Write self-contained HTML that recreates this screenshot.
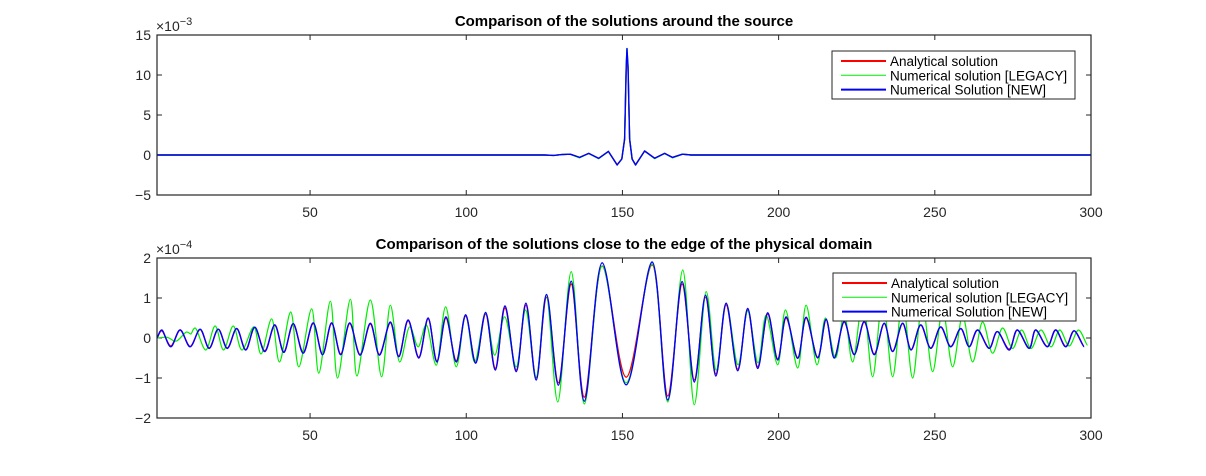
<!DOCTYPE html>
<html><head><meta charset="utf-8"><style>
body{margin:0;background:#fff;}
svg text{font-family:"Liberation Sans",sans-serif;}
</style></head><body>
<svg id="fig" width="1206" height="471" xmlns="http://www.w3.org/2000/svg">
<rect width="1206" height="471" fill="#fff"/>
<defs>
<clipPath id="c1"><rect x="157" y="35" width="934" height="160"/></clipPath>
<clipPath id="c2"><rect x="157" y="258" width="934" height="160"/></clipPath>
</defs>
<g id="top"></g>
<g id="bot"></g>
</svg>
<script>
// ---- X axis ----
const xTicks=[50,100,150,200,250,300];
// ---- Top chart data (x10^-3) ----
const topYTicks=[15,10,5,0,-5];
const topX=[1,125,128,130.5,133.3,136.3,139.2,142.4,145.5,148.3,149.8,150.7,151.2,151.45,151.8,152.3,153.1,154.2,157.1,160.3,163.5,166,169.2,172,175,300];
const topAna=[0,0,-0.05,0.05,0.1,-0.3,0.2,-0.42,0.45,-1.2,-0.5,2,10.5,12.8,10.5,2,-0.5,-1.2,0.5,-0.4,0.2,-0.3,0.1,0,0,0];
const topLegacy=[0,0,-0.05,0.05,0.1,-0.35,0.2,-0.45,0.45,-1.25,-0.5,2,11,13.3,11,2,-0.5,-1.25,0.5,-0.45,0.2,-0.35,0.1,0,0,0];
const topNew=[0,0,-0.05,0.05,0.1,-0.3,0.2,-0.42,0.45,-1.25,-0.5,2,11,13.3,11,2,-0.5,-1.25,0.5,-0.4,0.2,-0.3,0.1,0,0,0];
// ---- Bottom chart data (x10^-4), extrema ----
const botYTicks=[2,1,0,-1,-2];
const newPeakX=[2.5,8.4,14.8,20.6,26.5,32.3,38.7,44.6,51,56.9,62.7,69.3,75.7,81.4,87.8,93.5,99.8,106.2,112.4,119.1,125.7,133.6,143.5,159.5,169.1,176.6,183.2,190.1,196.5,202.4,208.8,215.2,221,227.4,233.8,239.7,245.5,251.9,258.3,263.7,270,276.4,282.3,288.7,294.6];
const newPeakY=[0.2,0.2,0.22,0.22,0.24,0.27,0.33,0.36,0.38,0.38,0.38,0.37,0.4,0.45,0.5,0.53,0.58,0.64,0.8,0.87,1.09,1.42,1.88,1.9,1.41,1.07,0.87,0.74,0.63,0.53,0.52,0.47,0.41,0.41,0.37,0.37,0.33,0.28,0.24,0.2,0.16,0.2,0.2,0.2,0.18];
const newTroughX=[1,5.4,11.6,17.7,23.5,29.4,35.5,41.6,47.8,54,59.8,66,72.2,78.4,84.8,90.6,96.8,103,109.3,116,122.4,129.5,137.8,151.2,164.5,173,179.9,186.9,193.3,199.7,206.1,212.5,217.8,224.2,230.6,236.5,242.4,248.7,255.1,261,267.4,273.8,280.2,286,291.9,297.8];
const newTroughY=[0,-0.22,-0.22,-0.26,-0.26,-0.3,-0.34,-0.36,-0.38,-0.42,-0.42,-0.43,-0.43,-0.47,-0.5,-0.6,-0.6,-0.63,-0.8,-0.84,-1.05,-1.18,-1.58,-1.17,-1.55,-1.1,-0.95,-0.82,-0.76,-0.55,-0.51,-0.5,-0.5,-0.42,-0.42,-0.34,-0.3,-0.26,-0.22,-0.22,-0.26,-0.3,-0.26,-0.22,-0.22,-0.22];
const anaPeakY=[0.18,0.2,0.21,0.22,0.23,0.26,0.31,0.34,0.36,0.36,0.36,0.35,0.38,0.43,0.48,0.5,0.55,0.6,0.75,0.82,1.02,1.35,1.8,1.83,1.35,1.02,0.83,0.7,0.6,0.5,0.5,0.45,0.4,0.4,0.36,0.36,0.32,0.27,0.23,0.2,0.16,0.2,0.2,0.2,0.18];
const anaTroughY=[0,-0.2,-0.21,-0.25,-0.25,-0.29,-0.32,-0.34,-0.36,-0.4,-0.4,-0.41,-0.41,-0.45,-0.48,-0.57,-0.57,-0.6,-0.76,-0.8,-1.0,-1.12,-1.48,-0.98,-1.45,-1.05,-0.9,-0.78,-0.72,-0.52,-0.49,-0.48,-0.48,-0.4,-0.4,-0.33,-0.29,-0.25,-0.21,-0.21,-0.25,-0.28,-0.25,-0.21,-0.21,-0.21];
const legPeakX=[4,10.5,13.2,19.6,25.4,32,37.7,43.8,50.5,56.5,62.9,69.3,75.7,81.9,87.2,93.4,99.8,106.2,112.3,119,125.6,133.6,143.5,159.5,169.3,176.8,183.2,190.1,196,202.2,208.8,215,221,227,233.3,239.7,246,252.5,258.9,265.3,271.7,277.8,284,290,296];
const legPeakY=[0.02,0.15,0.25,0.3,0.3,0.28,0.48,0.65,0.73,0.92,0.97,0.95,0.82,0.28,0.33,0.78,0.58,0.62,0.53,0.7,1.08,1.66,1.8,1.85,1.7,1.16,0.87,0.67,0.57,0.7,0.82,0.5,0.6,0.95,1.0,0.95,0.85,0.7,0.55,0.4,0.25,0.2,0.2,0.2,0.2];
const legTroughX=[1,7,11.8,16.6,22.3,28.2,34.3,40.2,46.4,52.8,58.8,65,72.9,78.7,84.6,90.4,96.8,102.7,109.1,116,122.4,129.3,137.8,151.2,164.5,173,180,187,193.4,199.7,206.1,212.3,218.2,223.7,230.1,236.5,242.9,249.3,255.7,262.1,268.5,274.9,280.8,287.2,293,298.9];
const legTroughY=[0,-0.08,0.1,-0.3,-0.3,-0.3,-0.4,-0.6,-0.72,-0.88,-1.0,-0.95,-0.97,-0.6,-0.22,-0.68,-0.72,-0.6,-0.43,-0.72,-0.97,-1.6,-1.65,-1.12,-1.6,-1.67,-0.8,-0.67,-0.62,-0.67,-0.75,-0.67,-0.5,-0.6,-0.97,-0.97,-1.0,-0.84,-0.72,-0.6,-0.38,-0.26,-0.26,-0.22,-0.2,-0.18];
const legendLabels=["Analytical solution","Numerical solution [LEGACY]","Numerical Solution [NEW]"];

const NS="http://www.w3.org/2000/svg";
const X0=157,X1=1091,XMIN=1,XMAX=300;
function sx(v){return X0+(v-XMIN)/(XMAX-XMIN)*(X1-X0);}
function mk(tag,attrs,parent){const e=document.createElementNS(NS,tag);for(const k in attrs)e.setAttribute(k,attrs[k]);parent.appendChild(e);return e;}
function merge(ax,ay,bx,by){const p=[];ax.forEach((x,i)=>p.push([x,ay[i]]));bx.forEach((x,i)=>p.push([x,by[i]]));p.sort((a,b)=>a[0]-b[0]);return p;}
function linePath(pts,fx,fy){return pts.map((p,i)=>(i?'L':'M')+fx(p[0]).toFixed(2)+','+fy(p[1]).toFixed(2)).join('');}
function smoothPath(pts,fx,fy){const P=pts.map(p=>[fx(p[0]),fy(p[1])]);let d='M'+P[0][0].toFixed(2)+','+P[0][1].toFixed(2);
 for(let i=0;i<P.length-1;i++){const p0=P[i-1]||P[i],p1=P[i],p2=P[i+1],p3=P[i+2]||P[i+1];
  const c1=[p1[0]+(p2[0]-p0[0])/6,p1[1]]; const c2=[p2[0]-(p3[0]-p1[0])/6,p2[1]];
  d+='C'+c1[0].toFixed(2)+','+c1[1].toFixed(2)+' '+c2[0].toFixed(2)+','+c2[1].toFixed(2)+' '+p2[0].toFixed(2)+','+p2[1].toFixed(2);}
 return d;}

function axes(g,Y0,Y1,yTicks,expo,title,clip){
 const ymax=yTicks[0],ymin=yTicks[yTicks.length-1];
 const sy=v=>Y0+(ymax-v)/(ymax-ymin)*(Y1-Y0);
 const t=mk('text',{x:624,y:Y0-9,'text-anchor':'middle','font-size':'15','font-weight':'bold',fill:'#000'},g);t.textContent=title;
 
 
 const ex=mk('text',{x:X0-1,y:Y0-4,'font-size':'14',fill:'#262626'},g);
 
 
 ex.innerHTML='×10<tspan dy="-6" font-size="11">'+expo+'</tspan>';
 yTicks.forEach(v=>{const y=sy(v);
  mk('line',{x1:X0,x2:X0+5,y1:y,y2:y,stroke:'#262626','stroke-width':1},g);
  mk('line',{x1:X1-5,x2:X1,y1:y,y2:y,stroke:'#262626','stroke-width':1},g);
  const l=mk('text',{x:X0-6,y:y+5,'text-anchor':'end','font-size':'14',fill:'#262626'},g);l.textContent=(v<0?'\u2212'+(-v):v);
  
  });
 xTicks.forEach(v=>{const x=sx(v);
  mk('line',{x1:x,x2:x,y1:Y1,y2:Y1-5,stroke:'#262626','stroke-width':1},g);
  mk('line',{x1:x,x2:x,y1:Y0,y2:Y0+5,stroke:'#262626','stroke-width':1},g);
  const l=mk('text',{x:x,y:Y1+22,'text-anchor':'middle','font-size':'14',fill:'#262626'},g);l.textContent=v;
  
  });
 return sy;
}
function frame(g,Y0,Y1){const r=mk('rect',{x:X0,y:Y0,width:X1-X0,height:Y1-Y0,fill:'none',stroke:'#262626','stroke-width':1.2},g);
 
 }
function legend(g,lx,ly,legacyColor){
 const box=mk('rect',{x:lx,y:ly,width:243,height:48,fill:'#fff',stroke:'#262626','stroke-width':1},g);
 
 
 const cols=['#ff0000',legacyColor,'#0000ff'],ws=[2,1,2];
 legendLabels.forEach((s,i)=>{const y=ly+10+i*14.3;
  const ln=mk('line',{x1:lx+9,x2:lx+54,y1:y,y2:y,stroke:cols[i],'stroke-width':ws[i]},g);
  
  
  const t=mk('text',{x:lx+58,y:y+5,'font-size':'13.5',fill:'#000'},g);t.textContent=s;
  
  });
}
function series(g,d,col,w,clip,name){const p=mk('path',{d:d,fill:'none',stroke:col,'stroke-width':w,'clip-path':'url(#'+clip+')','stroke-linejoin':'round'},g);
 
 }

// top
const gT=document.getElementById('top');
const syT=axes(gT,35,195,topYTicks,'\u22123','Comparison of the solutions around the source');
const tp=a=>topX.map((x,i)=>[x,a[i]]);
series(gT,linePath(tp(topAna),sx,syT),'#ff0000',1.4,'c1','analytical-series');
series(gT,linePath(tp(topLegacy),sx,syT),'#00ee00',1.4,'c1','legacy-series');
series(gT,linePath(tp(topNew),sx,syT),'#0000ff',1.4,'c1','new-series');
frame(gT,35,195);
legend(gT,832,51,'#00ee00');

// bottom
const gB=document.getElementById('bot');
const syB=axes(gB,258,418,botYTicks,'\u22124','Comparison of the solutions close to the edge of the physical domain');
series(gB,smoothPath(merge(newPeakX,anaPeakY,newTroughX,anaTroughY),sx,syB),'#ff0000',1.4,'c2','analytical-series');
series(gB,smoothPath(merge(legPeakX,legPeakY,legTroughX,legTroughY),sx,syB),'#00ee00',1.2,'c2','legacy-series');
series(gB,smoothPath(merge(newPeakX,newPeakY,newTroughX,newTroughY),sx,syB),'#0000ff',1.4,'c2','new-series');
frame(gB,258,418);
legend(gB,833,273,'#00ee00');
</script>
</body></html>
